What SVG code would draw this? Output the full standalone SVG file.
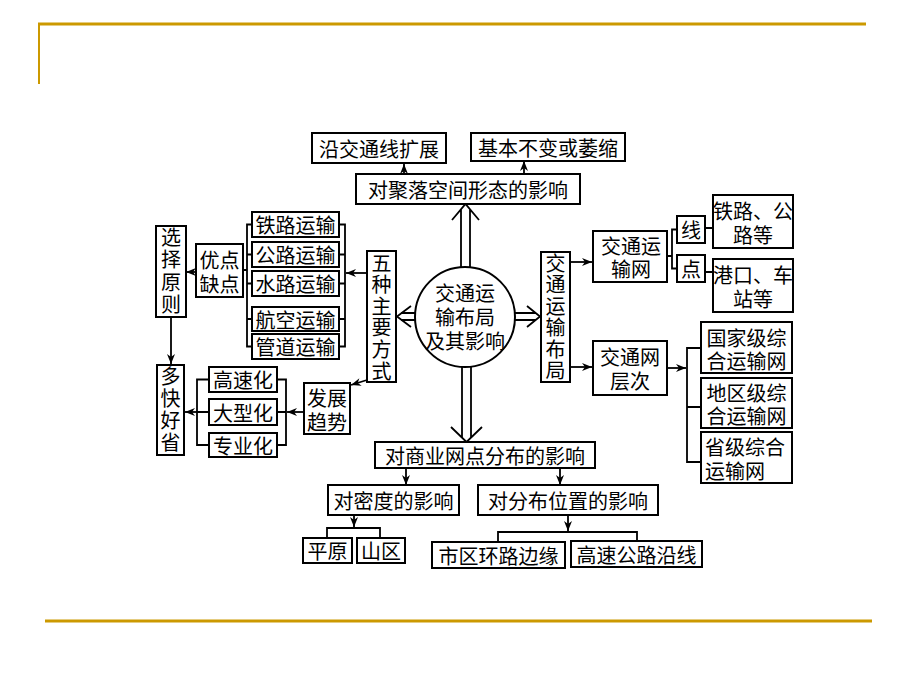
<svg xmlns="http://www.w3.org/2000/svg" width="920" height="690" viewBox="0 0 920 690">
<defs>
<style>
.b{fill:#fff;stroke:#000;stroke-width:2}
.t{font-family:"Noto Sans CJK SC","Noto Sans CJK JP",sans-serif;font-size:20px;text-anchor:middle;dominant-baseline:central;fill:#000}
.v{font-family:"Noto Sans CJK SC","Noto Sans CJK JP",sans-serif;font-size:20px;writing-mode:vertical-rl;text-anchor:start;fill:#000}
.c{fill:none;stroke:#000;stroke-width:1.8}
.a{fill:none;stroke:#000;stroke-width:1.8;marker-end:url(#ah)}
.g{fill:none;stroke:#CC9900}
</style>
<marker id="ah" viewBox="0 0 10 8" refX="10" refY="4" markerWidth="11" markerHeight="8" markerUnits="userSpaceOnUse" orient="auto">
<path d="M0,0 L10,4 L0,8 L3,4 Z" fill="#000"/>
</marker>
</defs>
<rect width="920" height="690" fill="#fff"/>
<g id="frame">
<path class="g" stroke-width="3" d="M38,24 H866"/>
<path class="g" stroke-width="2" d="M39,24 V84"/>
<path class="g" stroke-width="3" d="M45,621 H872"/>
</g>

<g id="connectors">
<path class="c" d="M461,300 V209 M470,300 V209 M452,220 L465.5,204 L479,220"/>
<path class="c" d="M462,330 V438 M471,330 V438 M451,427 L466.5,442 L482,427"/>
<path class="c" d="M440,313 H401 M440,320 H401 M411,306 L397,316.5 L411,327"/>
<path class="c" d="M490,313 H536 M490,320 H536 M527,306 L540,316.5 L527,327"/>
<path class="a" d="M404,174 V164"/>
<path class="a" d="M524,174 V161"/>
<path class="a" d="M367,273 H346"/>
<path class="c" d="M339,224.5 H345 V346.5 H339 M339,254.5 H345 M339,283.5 H345 M339,319 H345"/>
<path class="c" d="M252,224.5 H247 V346.5 H252 M252,254.5 H247 M252,283.5 H247 M252,319 H247 M243,270 H247"/>
<path class="a" d="M196,272 H186"/>
<path class="a" d="M171,317 V364"/>
<path class="c" d="M209,379.5 H197 V445 H209 M209,412 H197"/>
<path class="a" d="M197,412 H185"/>
<path class="c" d="M277,379.5 H286 V445 H277 M277,412 H286"/>
<path class="a" d="M304,412 H287"/>
<path class="a" d="M367,380 L351,385"/>
<path class="a" d="M570,262 H592"/>
<path class="c" d="M667,256 H672 M677,229.5 H672 V268.5 H677"/>
<path class="c" d="M705,228 H713 M705,272 H713"/>
<path class="a" d="M570,367 H592"/>
<path class="a" d="M667,368 H686"/>
<path class="c" d="M701,348 H687 V462 H701 M687,407 H701"/>
<path class="a" d="M406,468 V485"/>
<path class="a" d="M560,468 V485"/>
<path class="a" d="M354,515 V527"/>
<path class="c" d="M327,538 V528 H380 V538"/>
<path class="a" d="M568,515 V531"/>
<path class="c" d="M498,542 V532 H637 V541"/>
</g>

<g id="n-along"><rect class="b" x="312" y="133" width="134" height="30"/><text class="t" x="379" y="148" font-size="21">沿交通线扩展</text></g>
<g id="n-shrink"><rect class="b" x="471" y="133" width="154" height="28"/><text class="t" x="548" y="147" font-size="21">基本不变或萎缩</text></g>
<g id="n-settle"><rect class="b" x="356" y="174" width="224" height="30"/><text class="t" x="468" y="189" font-size="21">对聚落空间形态的影响</text></g>

<g id="n-center"><circle cx="465" cy="317" r="50" fill="#fff" stroke="#000" stroke-width="2"/>
<text class="t" x="465" y="292">交通运<tspan x="465" dy="24">输布局</tspan><tspan x="465" dy="24">及其影响</tspan></text></g>

<g id="n-five"><rect class="b" x="367" y="251" width="29" height="131"/>
<text class="v" x="381.5" y="253" letter-spacing="1.6">五种主要方式</text></g>
<g id="n-rail"><rect class="b" x="252" y="212" width="87" height="25"/><text class="t" x="295.5" y="224.5">铁路运输</text></g>
<g id="n-road"><rect class="b" x="252" y="242" width="87" height="25"/><text class="t" x="295.5" y="254.5">公路运输</text></g>
<g id="n-water"><rect class="b" x="252" y="271" width="87" height="25"/><text class="t" x="295.5" y="283.5">水路运输</text></g>
<g id="n-air"><rect class="b" x="252" y="307" width="87" height="24"/><text class="t" x="295.5" y="319">航空运输</text></g>
<g id="n-pipe"><rect class="b" x="252" y="334" width="87" height="25"/><text class="t" x="295.5" y="346.5">管道运输</text></g>
<g id="n-pros"><rect class="b" x="196" y="244" width="47" height="53"/><text class="t" x="219.5" y="259">优点<tspan x="219.5" dy="24">缺点</tspan></text></g>
<g id="n-choose"><rect class="b" x="156" y="226" width="30" height="91"/>
<text class="v" x="171" y="227" letter-spacing="2.5">选择原则</text></g>
<g id="n-more"><rect class="b" x="157" y="365" width="27" height="90"/>
<text class="v" x="170.5" y="366" letter-spacing="2.3">多快好省</text></g>
<g id="n-fast"><rect class="b" x="209" y="367" width="68" height="25"/><text class="t" x="243" y="379.5">高速化</text></g>
<g id="n-large"><rect class="b" x="209" y="399" width="68" height="26"/><text class="t" x="243" y="412">大型化</text></g>
<g id="n-special"><rect class="b" x="209" y="433" width="68" height="24"/><text class="t" x="243" y="445">专业化</text></g>
<g id="n-trend"><rect class="b" x="304" y="383" width="46" height="51"/><text class="t" x="327" y="397">发展<tspan x="327" dy="24">趋势</tspan></text></g>

<g id="n-layout"><rect class="b" x="541" y="252" width="29" height="130"/>
<text class="v" x="555.5" y="253" letter-spacing="1.5">交通运输布局</text></g>
<g id="n-net"><rect class="b" x="593" y="231" width="74" height="51"/><text class="t" x="631" y="245">交通运<tspan x="631" dy="23">输网</tspan></text></g>
<g id="n-line"><rect class="b" x="677" y="216" width="28" height="27"/><text class="t" x="691" y="229.5">线</text></g>
<g id="n-point"><rect class="b" x="677" y="255" width="28" height="27"/><text class="t" x="691" y="268.5">点</text></g>
<g id="n-railroad"><rect class="b" x="713" y="195" width="80" height="53"/><text class="t" x="753" y="210">铁路、公<tspan x="753" dy="24">路等</tspan></text></g>
<g id="n-port"><rect class="b" x="713" y="259" width="80" height="53"/><text class="t" x="753" y="274">港口、车<tspan x="753" dy="24">站等</tspan></text></g>
<g id="n-level"><rect class="b" x="593" y="341" width="74" height="54"/><text class="t" x="630" y="356">交通网<tspan x="630" dy="24">层次</tspan></text></g>
<g id="n-national"><rect class="b" x="701" y="322" width="91" height="51"/><text class="t" x="746.5" y="337">国家级综<tspan x="746.5" dy="23">合运输网</tspan></text></g>
<g id="n-region"><rect class="b" x="701" y="378" width="91" height="50"/><text class="t" x="746.5" y="392">地区级综<tspan x="746.5" dy="23">合运输网</tspan></text></g>
<g id="n-province"><rect class="b" x="701" y="432" width="91" height="51"/><text class="t" x="705" y="446" style="text-anchor:start">省级综合<tspan x="705" dy="24">运输网</tspan></text></g>

<g id="n-commerce"><rect class="b" x="375" y="442" width="220" height="26"/><text class="t" x="485" y="455" font-size="21">对商业网点分布的影响</text></g>
<g id="n-density"><rect class="b" x="328" y="485" width="131" height="30"/><text class="t" x="393.5" y="500" font-size="21">对密度的影响</text></g>
<g id="n-position"><rect class="b" x="478" y="485" width="180" height="30"/><text class="t" x="568" y="500" font-size="21">对分布位置的影响</text></g>
<g id="n-plain"><rect class="b" x="303" y="538" width="49" height="25"/><text class="t" x="327.5" y="550.5">平原</text></g>
<g id="n-mountain"><rect class="b" x="357" y="538" width="48" height="25"/><text class="t" x="381" y="550.5">山区</text></g>
<g id="n-ring"><rect class="b" x="432" y="542" width="133" height="26"/><text class="t" x="498.5" y="555" font-size="21">市区环路边缘</text></g>
<g id="n-highway"><rect class="b" x="571" y="541" width="131" height="26"/><text class="t" x="636.5" y="554" font-size="21">高速公路沿线</text></g>
</svg>
